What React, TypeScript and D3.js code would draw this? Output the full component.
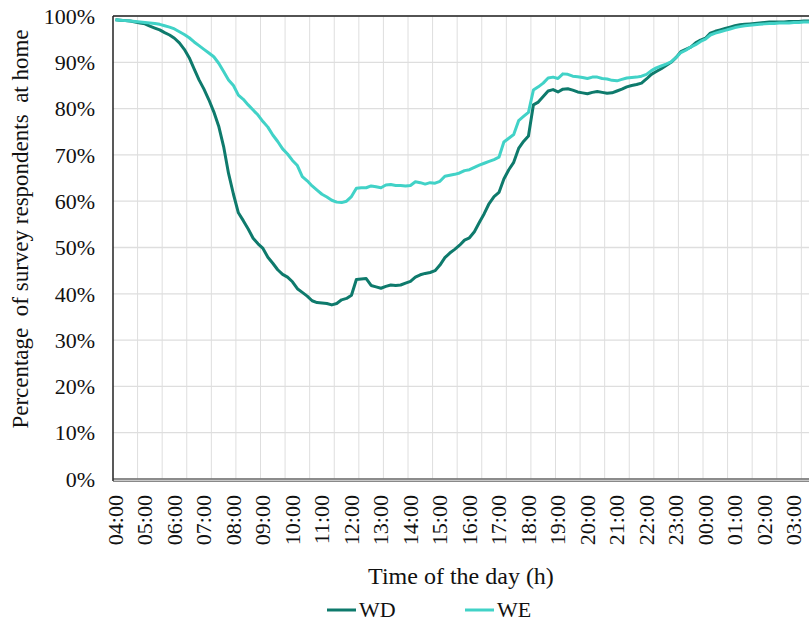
import React from "react";
import * as d3 from "d3";

// 10-minute categories from 04:00 to 03:50
const categories: string[] = Array.from({ length: 144 }, (_, i) => {
  const m = (4 * 60 + i * 10) % (24 * 60);
  return `${String(Math.floor(m / 60)).padStart(2, "0")}:${String(m % 60).padStart(2, "0")}`;
});

const wdValues: number[] = [
  99.2, 99.1, 99.0, 98.9, 98.7, 98.5, 98.3, 97.8, 97.4, 97.0, 96.4, 95.9,
  95.2, 94.2, 92.8, 91.0, 88.6, 86.2, 84.2, 81.9, 79.3, 76.2, 71.8, 66.0,
  61.5, 57.5, 55.8, 54.0, 52.0, 50.8, 49.8, 47.9, 46.6, 45.2, 44.2, 43.6,
  42.6, 41.1, 40.3, 39.5, 38.5, 38.1, 38.0, 37.9, 37.6, 37.9, 38.7, 39.0,
  39.7, 43.1, 43.2, 43.3, 41.8, 41.5, 41.2, 41.6, 41.9, 41.8, 41.9, 42.3,
  42.7, 43.6, 44.1, 44.4, 44.6, 45.0, 46.2, 47.8, 48.8, 49.6, 50.5, 51.6,
  52.1, 53.4, 55.4, 57.3, 59.5, 61.0, 61.9, 64.8, 66.8, 68.4, 71.4, 72.9,
  74.1, 80.8, 81.4, 82.6, 83.8, 84.1, 83.6, 84.2, 84.3, 84.0, 83.6, 83.4,
  83.2, 83.5, 83.7, 83.5, 83.3, 83.4, 83.8, 84.2, 84.7, 85.0, 85.2, 85.5,
  86.4, 87.4, 88.0, 88.6, 89.3, 90.0, 91.0, 92.3, 92.8, 93.3, 94.2, 94.8,
  95.2, 96.3, 96.7, 97.0, 97.3, 97.6, 97.9, 98.1, 98.2, 98.3, 98.4, 98.5,
  98.6, 98.7, 98.7, 98.7, 98.7, 98.8, 98.8, 98.8, 98.9, 98.9, 98.9, 98.9,
];

const weValues: number[] = [
  99.2, 99.1, 99.0, 98.9, 98.8, 98.7, 98.6, 98.5, 98.4, 98.2, 97.9, 97.6,
  97.2, 96.6, 96.0, 95.3, 94.4, 93.6, 92.8, 92.0, 91.2, 89.8, 88.0, 86.2,
  85.0, 82.9, 82.0, 80.8, 79.7, 78.6, 77.2, 76.0, 74.3, 72.9, 71.3, 70.2,
  68.8, 67.7, 65.3, 64.4, 63.3, 62.4, 61.5, 60.9, 60.2, 59.8, 59.7, 60.0,
  61.0, 62.8, 62.9, 62.9, 63.3, 63.1, 62.9, 63.5, 63.6, 63.4, 63.4, 63.3,
  63.4, 64.2, 64.0, 63.7, 64.0, 63.9, 64.3, 65.4, 65.6, 65.8, 66.1, 66.6,
  66.8, 67.3, 67.8, 68.2, 68.6, 69.0, 69.5, 72.8, 73.6, 74.4, 77.4, 78.3,
  79.2, 84.0, 84.7, 85.5, 86.6, 86.8, 86.5, 87.5, 87.4, 87.0, 86.9, 86.7,
  86.5, 86.8, 86.8, 86.5, 86.4, 86.1, 86.0, 86.3, 86.6, 86.7, 86.8, 87.0,
  87.4, 88.2, 88.8, 89.2, 89.6, 90.1, 91.0, 92.1, 92.6, 93.3, 93.8, 94.5,
  95.0, 95.9, 96.3, 96.6, 96.9, 97.2, 97.5, 97.7, 97.9, 98.0, 98.1, 98.2,
  98.3, 98.4, 98.4, 98.5, 98.5, 98.5, 98.6, 98.6, 98.7, 98.7, 98.7, 98.7,
];

const yTicks: number[] = [0, 10, 20, 30, 40, 50, 60, 70, 80, 90, 100];

const series = [
  { name: "WD", values: wdValues, color: "#0E7A6C" },
  { name: "WE", values: weValues, color: "#41D2C7" },
];

const W = 809;
const H = 620;
const left = 113;
const top = 16;
const bottom = 479;
const right = 821;
const FONT = "'Liberation Serif', 'Times New Roman', serif";

export default function App() {
  const x = d3.scaleBand<string>().domain(categories).range([left, right]).padding(0);
  const y = d3.scaleLinear().domain([0, 100]).range([bottom, top]);
  const cx = (i: number) => (x(categories[i]) as number) + x.bandwidth() / 2;

  const line = d3
    .line<number>()
    .x((_, i) => cx(i))
    .y((d) => y(d))
    .curve(d3.curveLinear);

  const gridIdx = categories.map((_, i) => i).filter((i) => i % 5 === 0 && i > 0);
  const labelIdx = categories.map((_, i) => i).filter((i) => i % 6 === 0);

  return (
    <svg
      width={W}
      height={H}
      style={{ position: "absolute", left: 0, top: 0, background: "#fff", overflow: "hidden" }}
      fontFamily={FONT}
    >
      <defs>
        <clipPath id="plotclip">
          <rect x={left} y={top - 3} width={right - left} height={bottom - top + 6} />
        </clipPath>
      </defs>
      {/* vertical gridlines */}
      {gridIdx.map((i) => (
        <line
          key={"vg" + i}
          x1={x(categories[i])}
          x2={x(categories[i])}
          y1={top}
          y2={bottom}
          stroke="#dedede"
          strokeWidth={1}
        />
      ))}
      {/* horizontal gridlines */}
      {yTicks.map((t) => (
        <line key={"hg" + t} x1={left} x2={right} y1={y(t)} y2={y(t)} stroke="#dedede" strokeWidth={1.3} />
      ))}
      {/* plot border */}
      <line x1={left} x2={right} y1={top} y2={top} stroke="#222" strokeWidth={1.5} />
      <line x1={left} x2={left} y1={top} y2={bottom + 2} stroke="#222" strokeWidth={1.5} />
      <line x1={left} x2={right} y1={bottom} y2={bottom} stroke="#333" strokeWidth={1.2} />
      <line x1={left} x2={right} y1={bottom + 2.2} y2={bottom + 2.2} stroke="#555" strokeWidth={1} />
      {/* series */}
      <g clipPath="url(#plotclip)">
        {series.map((s) => (
          <path
            key={s.name}
            d={line(s.values) || ""}
            fill="none"
            stroke={s.color}
            strokeWidth={3}
            strokeLinejoin="round"
          />
        ))}
      </g>
      {/* y tick labels */}
      {yTicks.map((t) => (
        <text
          key={"yl" + t}
          x={95}
          y={y(t)}
          dy="0.35em"
          textAnchor="end"
          fontSize={22}
          fill="#111"
        >
          {t}%
        </text>
      ))}
      {/* x tick labels */}
      {labelIdx.map((i) => (
        <text
          key={"xl" + i}
          transform={`translate(${cx(i)},${495}) rotate(-90)`}
          dy="0.34em"
          textAnchor="end"
          fontSize={22}
          fill="#111"
        >
          {categories[i]}
        </text>
      ))}
      {/* axis titles */}
      <text
        transform={`translate(${28},${229}) rotate(-90)`}
        textAnchor="middle"
        fontSize={23}
        fill="#111"
        xmlSpace="preserve"
      >
        {"Percentage  of survey respondents  at home"}
      </text>
      <text x={461} y={584} textAnchor="middle" fontSize={24} fill="#111">
        Time of the day (h)
      </text>
      {/* legend */}
      {series.map((s, k) => {
        const lx = k === 0 ? 327 : 465;
        return (
          <g key={"lg" + s.name}>
            <line x1={lx} x2={lx + 29} y1={610} y2={610} stroke={s.color} strokeWidth={3} />
            <text x={lx + 32} y={616.5} fontSize={22} fill="#111">
              {s.name}
            </text>
          </g>
        );
      })}
    </svg>
  );
}
